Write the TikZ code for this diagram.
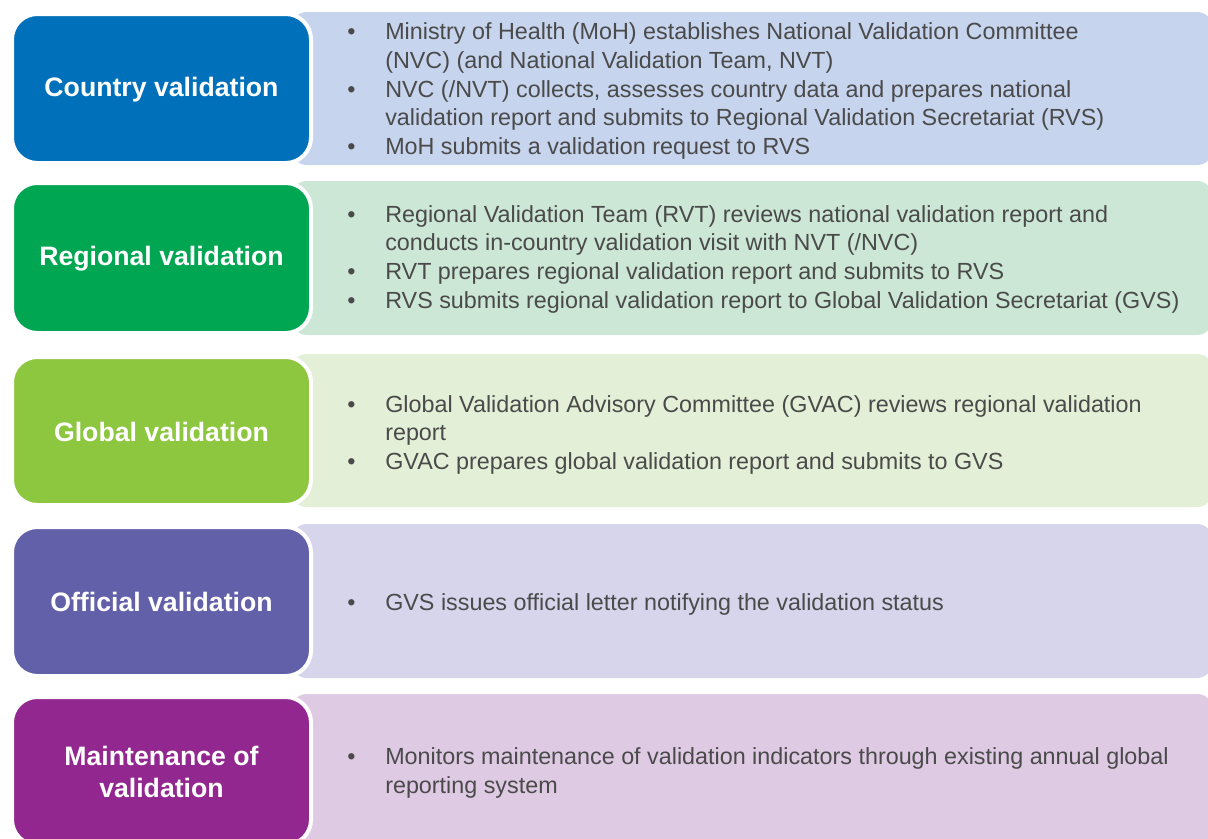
\documentclass[tikz,border=0pt]{standalone}
\usepackage{fontspec}
\setmainfont{Liberation Sans}
\usepackage{tikz}
\usepackage{xcolor}

\definecolor{countryblue}{HTML}{0070BB}
\definecolor{countrylight}{HTML}{C6D4EE}
\definecolor{regionalgreen}{HTML}{00A651}
\definecolor{regionallight}{HTML}{CCE7D6}
\definecolor{globalgreen}{HTML}{8DC63F}
\definecolor{globallight}{HTML}{E3F0D7}
\definecolor{officialpurple}{HTML}{6260A8}
\definecolor{officiallight}{HTML}{D7D5EB}
\definecolor{maintpurple}{HTML}{92278F}
\definecolor{maintlight}{HTML}{DFCAE4}
\definecolor{textgray}{HTML}{4A4A4A}

\newcommand{\bulletlist}[1]{\begin{tabular}{@{}p{28.5pt}@{}l@{}}#1\end{tabular}}

\begin{document}
\begin{tikzpicture}[x=0.75pt, y=-0.75pt,
  stagebox/.style={draw=white, line width=3pt, rounded corners=19pt},
  stageband/.style={rounded corners=11pt},
  stagetitle/.style={text=white, font=\bfseries\fontsize{20}{24}\selectfont, align=center, inner sep=0pt},
  bullets/.style={anchor=west, text=textgray, font=\fontsize{17.5}{21.5}\selectfont, inner sep=0pt}]
  \useasboundingbox (0, 0) rectangle (1208, 839);

  % country
  \fill[stageband, countrylight] (292, 12) rectangle (1212, 165);
  \draw[stagebox, fill=countryblue] (12, 14) rectangle (311, 163);
  \node[stagetitle] (country) at (161.5, 89.5) {Country validation};
  \node[bullets] (countrytext) at (347, 91.5) {\bulletlist{%
    \textbullet & Ministry of Health (MoH) establishes National Validation Committee\\
    & (NVC) (and National Validation Team, NVT)\\
    \textbullet & NVC (/NVT) collects, assesses country data and prepares national\\
    & validation report and submits to Regional Validation Secretariat (RVS)\\
    \textbullet & MoH submits a validation request to RVS}};

  % regional
  \fill[stageband, regionallight] (292, 181) rectangle (1212, 335);
  \draw[stagebox, fill=regionalgreen] (12, 183) rectangle (311, 333);
  \node[stagetitle] (regional) at (161.5, 259) {Regional validation};
  \node[bullets] (regionaltext) at (347, 259.5) {\bulletlist{%
    \textbullet & Regional Validation Team (RVT) reviews national validation report and\\
    & conducts in-country validation visit with NVT (/NVC)\\
    \textbullet & RVT prepares regional validation report and submits to RVS\\
    \textbullet & RVS submits regional validation report to Global Validation Secretariat (GVS)}};

  % global
  \fill[stageband, globallight] (292, 354) rectangle (1212, 507);
  \draw[stagebox, fill=globalgreen] (12, 357) rectangle (311, 505);
  \node[stagetitle] (global) at (161.5, 432) {Global validation};
  \node[bullets] (globaltext) at (347, 435) {\bulletlist{%
    \textbullet & Global Validation Advisory Committee (GVAC) reviews regional validation\\
    & report\\
    \textbullet & GVAC prepares global validation report and submits to GVS}};

  % official
  \fill[stageband, officiallight] (292, 524) rectangle (1212, 678);
  \draw[stagebox, fill=officialpurple] (12, 527) rectangle (311, 676);
  \node[stagetitle] (official) at (161.5, 602) {Official validation};
  \node[bullets] (officialtext) at (347, 605) {\bulletlist{%
    \textbullet & GVS issues official letter notifying the validation status}};

  % maintenance
  \fill[stageband, maintlight] (292, 694) rectangle (1212, 850);
  \draw[stagebox, fill=maintpurple] (12, 697) rectangle (311, 845);
  \node[stagetitle] (maintenance) at (161.5, 772) {Maintenance of\\validation};
  \node[bullets] (mainttext) at (347, 773.5) {\bulletlist{%
    \textbullet & Monitors maintenance of validation indicators through existing annual global\\
    & reporting system}};
\end{tikzpicture}
\end{document}
